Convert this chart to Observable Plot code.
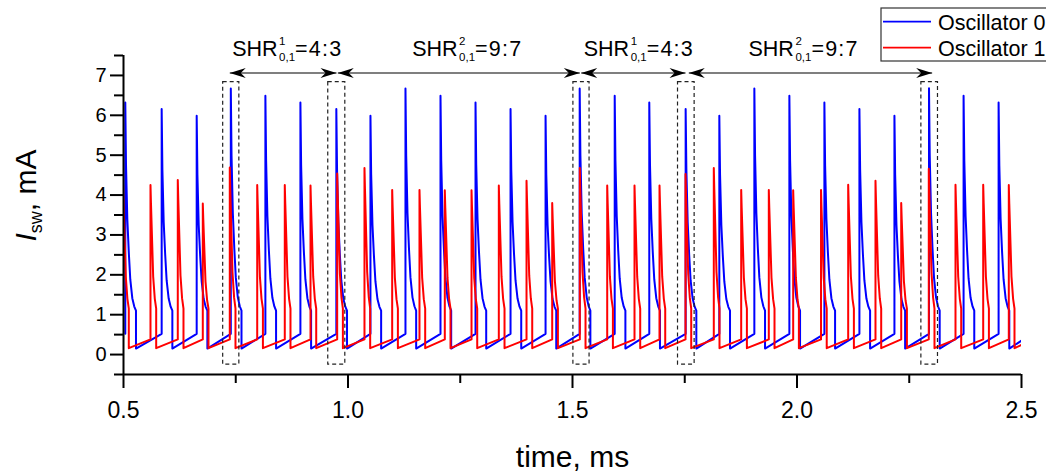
<!DOCTYPE html>
<html>
<head>
<meta charset="utf-8">
<script src="https://cdn.jsdelivr.net/npm/d3@7"></script>
<script src="https://cdn.jsdelivr.net/npm/@observablehq/plot@0.6"></script>
<style>
  html, body { margin: 0; padding: 0; background: #fff; }
  #chart svg { display: block; }
</style>
</head>
<body>
<div id="chart"></div>
<script>
// ---- data ----
// Oscillator 0 (blue): spike times (ms) and peak currents (mA)
const blueSpikeTimes = [0.504, 0.585, 0.663, 0.739, 0.816, 0.894, 0.974, 1.050, 1.128, 1.206, 1.284, 1.362, 1.440,
                        1.516, 1.594, 1.671, 1.752, 1.827, 1.905, 1.983, 2.061, 2.139, 2.217, 2.294, 2.371, 2.449];
const bluePeaks = [6.32, 6.16, 5.99, 6.67, 6.49, 6.32, 6.16, 5.99, 6.67, 6.49, 6.32, 6.16, 5.99,
                   6.67, 6.49, 6.32, 6.16, 5.99, 6.67, 6.49, 6.32, 6.16, 5.99, 6.68, 6.49, 6.32];
// Oscillator 1 (red)
const redSpikeTimes = [0.4991, 0.5601, 0.6209, 0.6766, 0.7367, 0.7978, 0.8592, 0.9165, 0.9759, 1.0367, 1.0984, 1.1592,
                       1.2156, 1.2751, 1.3359, 1.3976, 1.4548, 1.5163, 1.5773, 1.6381, 1.6938, 1.7517, 1.8147, 1.8757,
                       1.9372, 1.9915, 2.0535, 2.1140, 2.1748, 2.2321, 2.2935, 2.3530, 2.4147, 2.4717];
const redPeaks = [4.25, 4.25, 4.38, 3.79, 4.69, 4.25, 4.25, 4.24, 4.54, 4.68, 4.13, 4.13,
                  4.12, 4.12, 4.24, 4.36, 3.80, 4.68, 4.24, 4.24, 4.24, 4.53, 4.68, 4.13,
                  4.13, 4.12, 4.13, 4.26, 4.36, 3.80, 4.66, 4.26, 4.26, 4.25];
// pulse shape read from single spikes: offsets after the spike (ms) and share of (peak - shoulder)
const blueOffsets   = [0, 0.0016, 0.0045, 0.0078, 0.0111, 0.0156, 0.0200, 0.0238];
const blueFractions = [1, 0.70, 0.44, 0.28, 0.15, 0.06, 0.02, 0];
const blueLevels = {foot: 0.52, shoulder: 1.1, bottom: 0.15, end: 0.35};
const redOffsets   = [0, 0.0011, 0.0060, 0.0096, 0.0127];
const redFractions = [1, 0.85, 0.26, 0.08, 0];
const redLevels = {foot: 0.38, shoulder: 1.15, bottom: 0.16, end: 0.24};

// dashed boxes around coincident spikes
const boxX1 = [0.722, 0.956, 1.502, 1.735, 2.277];
const boxX2 = [0.758, 0.994, 1.538, 1.772, 2.314];
const boxYLow = -0.25, boxYHigh = 6.83;
// double arrows and labels
const arrowStart = [0.7367, 0.9773, 1.5194, 1.7590];
const arrowEnd   = [0.9744, 1.5163, 1.7517, 2.3010];
const arrowLevel = 7.06;
const labelX = [0.742, 1.143, 1.525, 1.892];
const labelSup = ["1", "2", "1", "2"];
const labelSub = "0,1";
const labelRatio = ["4:3", "9:7", "4:3", "9:7"];
// axes
const xMajorTicks = [0.5, 1.0, 1.5, 2.0, 2.5];
const xMinorTicks = [0.75, 1.25, 1.75, 2.25];
const yMajorTicks = [0, 1, 2, 3, 4, 5, 6, 7];
const yMinorTicks = [-0.5, 0.5, 1.5, 2.5, 3.5, 4.5, 5.5, 6.5, 7.5];
const seriesNames = ["Oscillator 0", "Oscillator 1"];
const seriesColors = ["#0000ff", "#ff0000"];

// ---- build the traces ----
function trace(times, peaks, offsets, fractions, lv) {
  const pts = [];
  times.forEach((t0, i) => {
    pts.push({t: t0, v: lv.foot});
    offsets.forEach((o, j) => pts.push({t: t0 + o, v: lv.shoulder + (peaks[i] - lv.shoulder) * fractions[j]}));
    pts.push({t: t0 + offsets[offsets.length - 1], v: lv.bottom});
  });
  pts.push({t: 2.5, v: lv.end});
  return pts;
}
const blueData = trace(blueSpikeTimes, bluePeaks, blueOffsets, blueFractions, blueLevels);
const redData = trace(redSpikeTimes, redPeaks, redOffsets, redFractions, redLevels);
const boxes = boxX1.map((x1, i) => ({x1, x2: boxX2[i]}));
const arrows = arrowStart.map((s, i) => ({s, e: arrowEnd[i]}));
const heads = arrowStart.map(s => ({x: s, r: 180})).concat(arrowEnd.map(e => ({x: e, r: 0})));
const labels = labelX.map((x, i) => ({x, i}));

const stealth = {
  draw(ctx) {
    ctx.moveTo(0, 0); ctx.lineTo(-16, -5); ctx.lineTo(-11, 0); ctx.lineTo(-16, 5); ctx.closePath();
  }
};
const FONT = "'Liberation Sans', Arial, Helvetica, sans-serif";

const plot = Plot.plot({
  width: 1046, height: 471,
  marginLeft: 123, marginRight: 25, marginTop: 55, marginBottom: 97,
  x: {domain: [0.5, 2.5], label: null},
  y: {domain: [-0.5, 7.5], label: null},
  style: {fontFamily: FONT, background: "#fff", color: "#000", overflow: "visible"},
  marks: [
    Plot.line(blueData, {x: "t", y: "v", stroke: seriesColors[0], strokeWidth: 2, clip: true}),
    Plot.line(redData, {x: "t", y: "v", stroke: seriesColors[1], strokeWidth: 2, clip: true}),
    Plot.rect(boxes, {x1: "x1", x2: "x2", y1: boxYLow, y2: boxYHigh, fill: "none", stroke: "#222", strokeWidth: 1.2, strokeDasharray: "4,3"}),
    Plot.link(arrows, {x1: "s", x2: "e", y1: arrowLevel, y2: arrowLevel, stroke: "#555", strokeWidth: 1.5}),
    Plot.dot(heads, {x: "x", y: arrowLevel, rotate: "r", symbol: stealth, fill: "#000", stroke: "none"}),
    Plot.text(labels, {x: "x", y: 7.5, text: () => "SHR", textAnchor: "start", lineAnchor: "bottom", fontSize: 21.5, fill: "#000", ariaDescription: "shr"}),
    Plot.axisY(yMajorTicks, {tickSize: 13, tickPadding: 4, fontSize: 20, strokeWidth: 2, tickFormat: d => String(d), label: null}),
    Plot.axisY(yMinorTicks, {tickSize: 9, strokeWidth: 2, tickFormat: () => "", label: null}),
    Plot.axisX(xMajorTicks, {tickSize: 14, tickPadding: 13, fontSize: 23, strokeWidth: 2, tickFormat: d3.format(".1f"), label: null}),
    Plot.axisX(xMinorTicks, {tickSize: 9, strokeWidth: 2, tickFormat: () => "", label: null}),
    Plot.ruleX([0.5], {y1: -0.5, y2: 7.5, strokeWidth: 2}),
    Plot.ruleY([-0.5], {x1: 0.5, x2: 2.5, strokeWidth: 2}),
    Plot.text(["time, ms"], {frameAnchor: "bottom", dy: 92, lineAnchor: "bottom", fontSize: 30, fill: "#000"}),
    Plot.text(["I"], {frameAnchor: "left", rotate: -90, dx: -88, dy: -19.5, lineAnchor: "bottom", textAnchor: "middle", fontSize: 30, fill: "#000", ariaDescription: "ylabel"})
  ]
});

const svg = d3.select(plot);
// SHR labels with super/subscripts
svg.selectAll('g[aria-description="shr"] text').each(function(d, k) {
  const t = d3.select(this);
  const i = labels[typeof d === "number" ? d : k].i;
  t.text(null);
  t.append("tspan").text("SHR");
  t.append("tspan").attr("font-size", 11.5).attr("dx", 1.5).attr("dy", -11).text(labelSup[i]);
  t.append("tspan").attr("font-size", 11.5).attr("dx", -6.4).attr("dy", 16.5).text(labelSub);
  t.append("tspan").attr("dy", -5.5).attr("letter-spacing", 1.2).text("=" + labelRatio[i]);
});
// y label: I_sw, mA
svg.selectAll('g[aria-description="ylabel"] text').each(function() {
  const t = d3.select(this);
  t.text(null);
  t.append("tspan").attr("font-style", "italic").text("I");
  t.append("tspan").attr("font-size", 18).attr("dy", 6).text("sw");
  t.append("tspan").attr("dy", -6).text(", mA");
});
// legend box (top right)
const lg = svg.append("g").attr("font-family", FONT).attr("font-size", 21.5).attr("text-anchor", "start");
lg.append("rect").attr("x", 881).attr("y", 8).attr("width", 175).attr("height", 53)
  .attr("fill", "#fff").attr("stroke", "#333").attr("stroke-width", 1.2);
seriesNames.forEach((name, i) => {
  const y = 21.7 + i * 26;
  lg.append("line").attr("x1", 883).attr("x2", 931).attr("y1", y).attr("y2", y)
    .attr("stroke", seriesColors[i]).attr("stroke-width", 1.8);
  lg.append("text").attr("x", 938).attr("y", y + 8.5).attr("text-anchor", "start").attr("fill", "#000").text(name);
});
document.getElementById("chart").appendChild(plot);
</script>
</body>
</html>
